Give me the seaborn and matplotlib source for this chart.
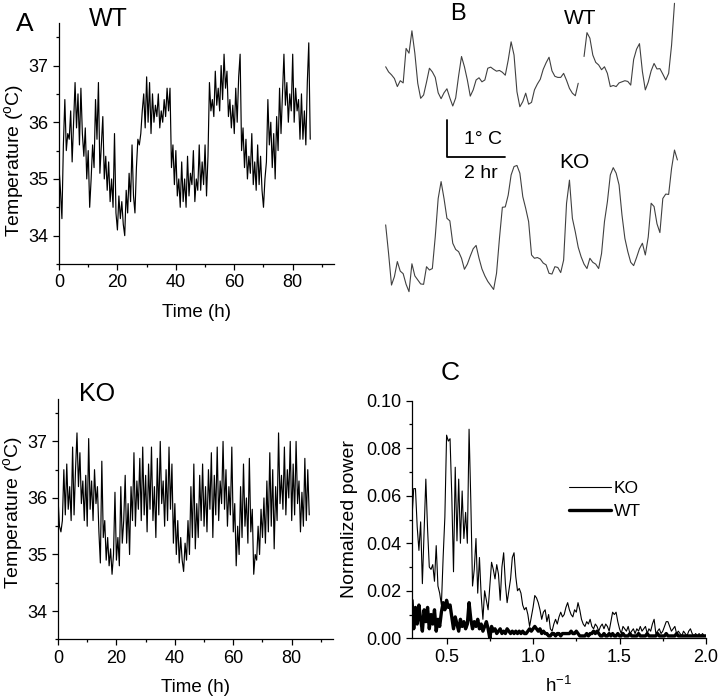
import numpy as np
import pandas as pd
import matplotlib.pyplot as plt
import seaborn as sns
from matplotlib.ticker import MultipleLocator

# ---- panel A: core temperature, one value every 0.5 h, 0..86 h ----
sample_step_h = 0.5
wt_temp = [35.2, 34.8, 34.3, 35.6, 36.4,
           35.5, 35.8, 35.7, 36.2, 35.3, 36.0,
           36.7, 35.9, 36.5, 35.6, 36.6, 35.8,
           35.4, 35.9, 35.0, 35.5, 34.5, 35.0,
           35.6, 35.2, 36.4, 35.7, 36.7, 35.1,
           35.6, 36.1, 35.0, 35.4, 34.8, 35.3,
           34.6, 35.0, 34.5, 35.8, 34.4, 34.1,
           34.7, 34.3, 34.6, 34.2, 34.0, 34.8,
           34.4, 35.1, 34.6, 35.6, 34.7, 34.4,
           35.2, 35.7, 35.6, 35.8, 36.2, 36.5,
           35.9, 36.8, 36.0, 36.7, 35.8, 36.5,
           36.0, 36.3, 36.1, 36.5, 35.9, 36.2,
           36.0, 36.4, 36.1, 36.6, 36.2, 36.6,
           35.2, 35.6, 34.9, 35.5, 34.7, 35.0,
           34.5, 35.3, 34.6, 35.0, 34.5, 35.4,
           34.7, 35.1, 34.9, 35.5, 34.6, 35.0,
           34.8, 35.6, 34.8, 35.3, 34.9, 35.6,
           34.7, 35.4, 36.7, 36.2, 36.4, 36.1,
           36.9, 36.3, 36.6, 36.2, 37.0, 36.4,
           37.2, 36.6, 36.9, 36.1, 36.4, 35.9,
           36.3, 35.8, 36.6, 36.0, 36.8, 37.2,
           35.5, 35.9, 35.2, 35.7, 35.0, 35.4,
           35.1, 35.8, 34.9, 35.3, 34.8, 35.6,
           34.9, 35.4, 34.8, 34.5, 35.0, 35.3,
           36.4, 35.6, 36.0, 35.2, 35.8, 35.0,
           36.1, 35.5, 36.6, 35.8, 36.5, 37.2,
           36.3, 36.7, 36.0, 36.5, 36.2, 37.2,
           36.0, 36.6, 36.2, 36.4, 35.7, 36.5,
           35.7, 36.2, 35.6, 36.7, 37.4, 35.7]

ko_temp = [36.0, 35.5, 35.4, 35.6, 36.5,
           35.7, 36.6, 35.8, 36.2, 35.6, 36.9,
           35.7, 36.5, 37.15, 36.2, 36.8, 35.9,
           36.3, 35.6, 36.4, 35.5, 37.05, 35.8,
           36.3, 35.6, 36.5, 35.9, 36.2, 35.4,
           34.85, 36.65, 35.3, 35.6, 34.9, 35.3,
           34.8, 35.1, 34.65, 35.0, 36.1, 34.9,
           35.3, 34.8, 36.2, 35.2, 35.6, 36.4,
           35.2, 35.9, 35.0, 36.2, 35.6, 36.8,
           35.5, 36.3, 35.8, 36.7, 35.6, 36.9,
           35.7, 36.4, 35.4, 36.6, 35.8, 36.9,
           35.6, 36.2, 35.3, 36.7, 35.7, 37.0,
           35.9, 36.3, 35.5, 36.5, 35.6, 36.9,
           35.8, 36.6, 35.2, 35.9, 35.0, 35.6,
           34.85, 35.3, 34.9, 34.7, 35.2, 34.9,
           35.6, 35.0, 36.2, 35.3, 36.6, 35.1,
           35.9, 35.3, 36.4, 35.6, 36.6, 35.5,
           36.2, 35.4, 36.5, 35.8, 36.8, 35.3,
           36.4, 35.7, 36.9, 35.6, 36.3, 35.9,
           37.0, 35.8, 36.5, 35.5, 36.2, 35.7,
           36.9, 35.4, 35.9, 34.8, 35.5, 35.0,
           36.2, 35.3, 36.6, 35.5, 36.0, 35.2,
           36.7, 35.4, 35.8, 34.65, 35.0, 34.9,
           35.5, 35.0, 35.8, 35.3, 36.0, 35.2,
           36.3, 35.4, 36.8, 35.5, 36.5, 35.1,
           36.2, 35.6, 37.15, 35.9, 36.4, 35.8,
           36.9, 35.7, 36.5, 36.0, 37.0, 35.6,
           36.6, 35.7, 37.0, 35.9, 36.3, 35.4,
           36.1, 35.5, 36.7, 35.6, 36.5, 35.7]

# ---- panel B: 10 h excerpts, one value every 0.1 h (deg C) ----
trace_step_h = 0.1
wt_excerpt = [36.27, 36.13, 36.05, 35.95, 35.73, 35.89, 35.83, 36.77, 36.64, 37.25,
              36.64, 35.82, 35.41, 35.50, 35.85, 36.23, 36.13, 35.98, 35.56, 35.40,
              35.56, 35.67, 35.42, 35.20, 35.42, 36.02, 36.55, 36.27, 35.91, 35.47,
              35.64, 35.91, 35.97, 35.86, 35.91, 36.23, 36.26, 36.20, 36.15, 36.17,
              36.12, 36.04, 36.45, 36.95, 36.59, 35.59, 35.18, 35.32, 35.55, 35.25,
              35.30, 35.64, 35.80, 35.93, 36.20, 36.38, 36.53, 36.16, 36.01, 35.98,
              35.98, 36.09, 35.90, 35.68, 35.55, 35.48, 35.82, np.nan, 36.55, 37.20,
              37.05, 36.59, 36.39, 36.32, 36.19, 36.27, 36.09, 35.73, 35.76, 35.73,
              35.83, 35.86, 35.89, 35.87, 35.77, 36.47, 36.75, 36.90, 36.14, 35.64,
              35.85, 36.16, 36.36, 36.21, 36.22, 36.07, 35.91, 36.09, 36.86, 38.00]

ko_excerpt = [35.14, 34.36, 33.50, 33.73, 34.14, 33.88, 33.81, 33.52, 33.32, 34.08,
              33.75, 33.64, 33.53, 33.52, 34.00, 33.91, 33.95, 34.82, 35.86, 36.32,
              35.86, 35.32, 35.25, 34.64, 34.47, 34.41, 34.23, 33.93, 34.07, 34.29,
              34.49, 34.58, 34.23, 33.94, 33.75, 33.60, 33.49, 33.38, 33.82, 34.77,
              35.62, 35.63, 35.95, 36.50, 36.73, 36.76, 36.55, 35.91, 35.59, 35.23,
              34.32, 34.23, 34.25, 34.21, 34.10, 34.05, 33.82, 33.80, 34.00, 33.98,
              33.84, 34.18, 35.73, 36.36, 35.32, 34.95, 34.53, 34.27, 34.07, 33.95,
              34.23, 34.12, 34.07, 33.95, 34.36, 35.23, 35.77, 36.50, 36.70, 36.55,
              36.23, 35.41, 34.77, 34.41, 34.12, 34.03, 34.25, 34.49, 34.64, 34.32,
              34.81, 35.73, 35.64, 35.17, 34.93, 35.86, 35.98, 35.97, 36.68, 37.18,
              36.91]

# ---- panel C: normalized power, 0.30..2.00 h^-1 in steps of 0.01 ----
freq_start, freq_step = 0.30, 0.01
ko_power = [0.051, 0.063, 0.063, 0.047, 0.037, 0.049, 0.023, 0.045, 0.067, 0.046,
            0.030, 0.029, 0.031, 0.024, 0.039, 0.022, 0.019, 0.014, 0.034, 0.051,
            0.0855, 0.083, 0.084, 0.060, 0.028, 0.072, 0.041, 0.067, 0.040, 0.062,
            0.042, 0.053, 0.040, 0.088, 0.058, 0.022, 0.029, 0.042, 0.019, 0.034,
            0.018, 0.008, 0.020, 0.016, 0.012, 0.022, 0.032, 0.029, 0.025, 0.031,
            0.027, 0.016, 0.030, 0.036, 0.023, 0.015, 0.020, 0.025, 0.034, 0.036,
            0.026, 0.020, 0.021, 0.019, 0.014, 0.012, 0.013, 0.010, 0.005, 0.009,
            0.013, 0.018, 0.017, 0.015, 0.012, 0.008, 0.011, 0.012, 0.007, 0.010,
            0.004, 0.003, 0.006, 0.008, 0.006, 0.009, 0.011, 0.009, 0.010, 0.013,
            0.015, 0.012, 0.010, 0.009, 0.012, 0.011, 0.015, 0.012, 0.008, 0.006,
            0.005, 0.007, 0.006, 0.008, 0.005, 0.004, 0.006, 0.005, 0.003, 0.005,
            0.006, 0.004, 0.006, 0.005, 0.003, 0.007, 0.011, 0.010, 0.011, 0.007,
            0.004, 0.002, 0.005, 0.004, 0.003, 0.005, 0.002, 0.003, 0.004, 0.002,
            0.004, 0.003, 0.005, 0.003, 0.004, 0.005, 0.002, 0.004, 0.003, 0.006,
            0.008, 0.002, 0.003, 0.004, 0.002, 0.003, 0.005, 0.007, 0.007, 0.005,
            0.003, 0.004, 0.005, 0.002, 0.003, 0.002, 0.001, 0.003, 0.002, 0.001,
            0.003, 0.004, 0.002, 0.001, 0.002, 0.001, 0.002, 0.001, 0.002, 0.001,
            0.001]

wt_power = [0.016, 0.004, 0.013, 0.006, 0.014, 0.008, 0.003, 0.012, 0.007, 0.013,
            0.004, 0.010, 0.006, 0.012, 0.003, 0.008, 0.005, 0.011, 0.015, 0.012,
            0.016, 0.013, 0.014, 0.009, 0.004, 0.009, 0.006, 0.003, 0.008, 0.005,
            0.007, 0.004, 0.006, 0.015, 0.008, 0.004, 0.007, 0.005, 0.008, 0.004,
            0.006, 0.003, 0.005, 0.007, 0.004, 0.000, 0.005, 0.003, 0.004, 0.002,
            0.003, 0.004, 0.002, 0.003, 0.002, 0.004, 0.003, 0.002, 0.003, 0.002,
            0.003, 0.002, 0.003, 0.002, 0.003, 0.002, 0.002, 0.003, 0.004, 0.003,
            0.004, 0.005, 0.004, 0.003, 0.004, 0.002, 0.003, 0.002, 0.002, 0.001,
            0.001, 0.002, 0.002, 0.001, 0.002, 0.002, 0.001, 0.002, 0.002, 0.002,
            0.002, 0.002, 0.003, 0.002, 0.002, 0.003, 0.002, 0.001, 0.001, 0.001,
            0.001, 0.002, 0.001, 0.002, 0.002, 0.003, 0.002, 0.003, 0.002, 0.001,
            0.001, 0.002, 0.001, 0.001, 0.002, 0.001, 0.002, 0.001, 0.001, 0.002,
            0.001, 0.001, 0.002, 0.001, 0.001, 0.001, 0.002, 0.001, 0.001, 0.001,
            0.001, 0.002, 0.001, 0.001, 0.001, 0.001, 0.002, 0.001, 0.001, 0.001,
            0.001, 0.001, 0.002, 0.001, 0.001, 0.001, 0.001, 0.002, 0.001, 0.001,
            0.001, 0.001, 0.001, 0.002, 0.001, 0.001, 0.001, 0.001, 0.001, 0.001,
            0.001, 0.001, 0.001, 0.001, 0.001, 0.001, 0.001, 0.001, 0.001, 0.001,
            0.001]

sns.set_style('ticks')
plt.rcParams['font.family'] = ['Liberation Sans', 'DejaVu Sans']
plt.rcParams.update({'axes.edgecolor': 'black', 'axes.labelcolor': 'black',
                     'xtick.color': 'black', 'ytick.color': 'black',
                     'text.color': 'black', 'axes.linewidth': 0.9})

W, H = 720, 696
fig = plt.figure(figsize=(W / 100, H / 100), dpi=100)


def px_axes(left, top, right, bottom):
    return fig.add_axes([left / W, 1 - bottom / H, (right - left) / W, (bottom - top) / H])


def label(x, y, s, size):
    fig.text(x / W, 1 - y / H, s, fontsize=size, ha='center', va='center')


def temp_panel(ax, values, ylabel_y):
    t = np.arange(len(values)) * sample_step_h
    sns.lineplot(x=t, y=values, ax=ax, color='black', linewidth=0.85)
    ax.set_xlim(0, 94)
    ax.set_ylim(33.5, 37.75)
    ax.xaxis.set_major_locator(MultipleLocator(20))
    ax.xaxis.set_minor_locator(MultipleLocator(10))
    ax.yaxis.set_major_locator(MultipleLocator(1))
    ax.yaxis.set_minor_locator(MultipleLocator(0.5))
    ax.set_xlabel('Time (h)', fontsize=13.5, labelpad=9)
    ax.set_ylabel('Temperature ($^\\mathregular{o}$C)', fontsize=14)
    ax.yaxis.set_label_coords(-0.115, ylabel_y)
    sns.despine(ax=ax)
    ax.tick_params(which='major', length=4, width=0.9, labelsize=13)
    ax.tick_params(which='minor', length=2.5, width=0.9)


ax_wt = px_axes(59, 23, 333.6, 264)
temp_panel(ax_wt, wt_temp, 0.43)
ax_ko = px_axes(58, 399, 332.6, 639.3)
temp_panel(ax_ko, ko_temp, 0.53)

# panel B: excerpts on a shared time / temperature scale
ko_offset = -3.18
ax_b = px_axes(370, 0, 720, 310)
wt_df = pd.DataFrame({'t': np.arange(len(wt_excerpt)) * trace_step_h, 'temp': wt_excerpt})
wt_df['seg'] = wt_df['temp'].isna().cumsum()
wt_df = wt_df.dropna()
sns.lineplot(data=wt_df, x='t', y='temp', units='seg', estimator=None, ax=ax_b,
             color='0.25', linewidth=0.8)
sns.lineplot(x=np.arange(len(ko_excerpt)) * trace_step_h, y=np.array(ko_excerpt) + ko_offset,
             ax=ax_b, color='0.25', linewidth=0.8)
ax_b.plot([2.09, 2.09, 4.09], [34.82, 33.82, 33.82], color='black', linewidth=1.3)
ax_b.set_xlim(-0.537, 11.46)
ax_b.set_ylim(29.64, 38.09)
ax_b.axis('off')

# panel C: power spectra
ax_c = px_axes(412, 400.7, 706, 638.3)
freq = freq_start + np.arange(len(ko_power)) * freq_step
sns.lineplot(x=freq, y=ko_power, ax=ax_c, color='black', linewidth=0.8, label='KO')
sns.lineplot(x=freq, y=wt_power, ax=ax_c, color='black', linewidth=2.4, label='WT')
ax_c.set_xlim(0.3, 2.0)
ax_c.set_ylim(0, 0.10)
ax_c.xaxis.set_major_locator(MultipleLocator(0.5))
ax_c.xaxis.set_minor_locator(MultipleLocator(0.25))
ax_c.yaxis.set_major_locator(MultipleLocator(0.02))
ax_c.yaxis.set_minor_locator(MultipleLocator(0.01))
ax_c.yaxis.set_major_formatter('{x:.2f}')
ax_c.xaxis.set_major_formatter('{x:.1f}')
ax_c.set_xlabel('h$^{\\mathregular{-1}}$', fontsize=13.5, labelpad=7)
ax_c.set_ylabel('Normalized power', fontsize=14, labelpad=6)
sns.despine(ax=ax_c)
ax_c.tick_params(which='major', length=4, width=0.9, labelsize=13)
ax_c.tick_params(which='minor', length=2.5, width=0.9)
ax_c.legend(frameon=False, loc='center left', bbox_to_anchor=(0.535, 0.583), fontsize=12.5,
            handlelength=2.4, handletextpad=0.15, labelspacing=0.45,
            borderpad=0, borderaxespad=0)

label(25, 24, 'A', 19)
label(108, 19, 'WT', 18)
label(97, 394, 'KO', 18)
label(458, 14, 'B', 17)
label(580, 18, 'WT', 15)
label(574, 162, 'KO', 15)
label(483, 140, '1° C', 14)
label(481, 173, '2 hr', 14)
label(450, 373, 'C', 19)

fig.savefig('out.png', dpi=100)
